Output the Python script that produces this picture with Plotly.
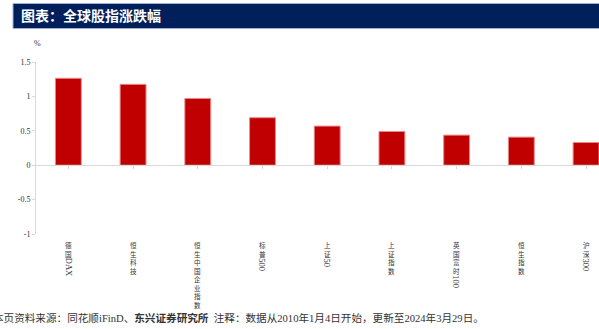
import plotly.graph_objects as go

categories = ["德国DAX", "恒生科技", "恒生中国企业指数", "标普500", "上证50",
              "上证指数", "英国富时100", "恒生指数", "沪深300"]
values = [1.263, 1.175, 0.97, 0.69, 0.568, 0.49, 0.437, 0.408, 0.33]
y_tickvals = [1.5, 1, 0.5, 0, -0.5, -1]
y_ticktext = ["1.5", "1", "0.5", "0", "-0.5", "-1"]

W, H = 599, 329
L, R, T, B = 36, 0, 62, 95
PW, PH = W - L - R, H - T - B

def px(xp):
    return (xp - L) / PW

def py(yp):
    return (H - B - yp) / PH

SERIF = "Liberation Serif, Noto Sans CJK SC"
CJK = "Noto Sans CJK SC"
CJK_SIZE = 6.6
PITCH = CJK_SIZE * 1.3

fig = go.Figure()
fig.add_trace(go.Bar(
    x=list(range(len(categories))), y=values, width=0.4,
    marker=dict(color="#C00000", line=dict(color="#e88a8a", width=1)),
))

annotations = []
# vertical category labels (CJK stacked top-down; latin runs rotated)
for i, name in enumerate(categories):
    cjk = "".join(c for c in name if ord(c) >= 128)
    latin = "".join(c for c in name if ord(c) < 128)
    top = 238.5
    annotations.append(dict(
        x=i, y=py(top), xref="x", yref="paper", text="<br>".join(cjk),
        showarrow=False, xanchor="center", yanchor="top", align="center",
        font=dict(family=CJK, size=CJK_SIZE, color="#333333"), borderpad=0))
    if latin:
        top += len(cjk) * PITCH + 1.5
        annotations.append(dict(
            x=i, y=py(top), xref="x", yref="paper", text=latin, showarrow=False,
            textangle=90, xanchor="center", yanchor="top",
            font=dict(family=SERIF, size=8.5, color="#333333"), borderpad=0))

# % unit
annotations.append(dict(x=px(37), y=py(43), xref="paper", yref="paper", text="%",
                        showarrow=False, xanchor="center", yanchor="middle",
                        font=dict(family=SERIF, size=8, color="#333333")))
# title
annotations.append(dict(x=px(19), y=py(15.5), xref="paper", yref="paper",
                        text="<b>图表：全球股指涨跌幅</b>", showarrow=False,
                        xanchor="left", yanchor="middle",
                        font=dict(family=CJK, size=14, color="white")))
# footer
annotations.append(dict(x=px(-9), y=py(318), xref="paper", yref="paper",
                        text="本页资料来源：同花顺iFinD、<b>东兴证券研究所</b>  注释：数据从2010年1月4日开始，更新至2024年3月29日。",
                        showarrow=False, xanchor="left", yanchor="middle",
                        font=dict(family=SERIF, size=10.6, color="#333333")))

shapes = [dict(type="rect", xref="paper", yref="paper",
               x0=px(13), x1=px(605), y0=py(28.5), y1=py(3.5),
               fillcolor="#001f5b", line=dict(color="#9fb0cf", width=1), layer="above")]

fig.update_layout(
    width=W, height=H, margin=dict(l=L, r=R, t=T, b=B),
    paper_bgcolor="white", plot_bgcolor="white", showlegend=False,
    annotations=annotations, shapes=shapes,
    xaxis=dict(range=[-0.5, 8.2], anchor="free", position=(0 - (-1)) / 2.5,
               showline=True, linecolor="#d9d9d9", linewidth=1,
               ticks="outside", tickson="boundaries", ticklen=3, tickcolor="#d9d9d9",
               showticklabels=False, showgrid=False, zeroline=False,
               tickvals=list(range(len(categories)))),
    yaxis=dict(range=[-1, 1.5], tickvals=y_tickvals, ticktext=y_ticktext,
               showline=True, linecolor="#d9d9d9", linewidth=1,
               ticks="outside", ticklen=3, tickcolor="#d9d9d9",
               showgrid=False, zeroline=False,
               tickfont=dict(family=SERIF, size=8, color="#333333")),
)

fig.write_html("out.html")
